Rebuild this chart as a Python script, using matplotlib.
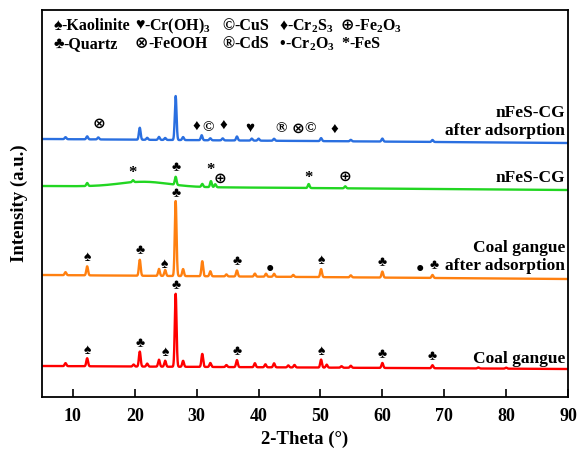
import numpy as np
import matplotlib
matplotlib.use('Agg')
import matplotlib.pyplot as plt

plt.rcParams['font.family'] = ['Liberation Serif', 'DejaVu Sans']
plt.rcParams['font.weight'] = 'bold'
plt.rcParams['mathtext.fontset'] = 'custom'
plt.rcParams['mathtext.rm'] = 'Liberation Serif:bold'
plt.rcParams['mathtext.it'] = 'Liberation Serif:bold'
plt.rcParams['mathtext.bf'] = 'Liberation Serif:bold'

# ── Data: peak positions (2θ, °) and heights (a.u.) ──
cg_pos = [8.8, 12.3, 19.8, 20.8, 22.0, 23.9, 24.9, 26.6, 27.8, 30.9, 32.2, 34.8,
          36.5, 39.4, 41.1, 42.5, 44.8, 45.8, 50.1, 51.0, 53.4, 54.9, 60.0, 68.1,
          75.5, 80.0]
cg_h = [3, 8, 2, 15, 3, 7, 6, 73, 6, 13, 4, 2,
        7, 4, 3, 4, 2, 2.5, 8, 3, 1.5, 2, 5, 3,
        1, 1]

cga_pos = [8.8, 12.3, 20.8, 23.9, 24.9, 26.6, 27.8, 30.9, 32.2, 34.8, 36.5,
           39.4, 41.2, 42.5, 45.6, 50.1, 54.9, 60.0, 68.1]
cga_h = [3, 9, 16, 7, 6, 75, 7, 15, 5, 2, 6,
         3, 3, 3, 2, 8, 2, 6, 3]

nfes_pos = [12.3, 19.7, 26.6, 30.9, 32.3, 33.0, 48.1, 54.0]
nfes_h = [3, 2, 8, 3, 6, 3, 4, 2]
nfes_hump = (21.5, 5)          # broad amorphous hump: centre, height

nfesa_pos = [8.8, 12.3, 14.1, 20.8, 22.0, 23.9, 24.9, 26.6, 27.8, 30.8, 32.2,
             34.2, 36.5, 38.9, 40.0, 42.5, 50.1, 54.9, 60.0, 68.1]
nfesa_h = [2, 3, 2, 12, 2, 3, 2, 44, 3, 5, 2,
           2, 4, 2, 2, 2, 3, 1.5, 3, 2]

# baseline level at 2θ = 5 and 2θ = 90
base_cg = (31, 28)
base_cga = (122, 118)
base_nfes = (211, 207)
base_nfesa = (258, 254)

# phase marks: (symbol, 2θ, lift above curve)
marks_cg = [('♠', 12.3, 8), ('♣', 20.8, 8), ('♠', 24.9, 8), ('♣', 26.6, 8),
            ('♣', 36.5, 8), ('♠', 50.1, 8), ('♣', 60.0, 8), ('♣', 68.1, 9)]
marks_cga = [('♠', 12.3, 9), ('♣', 20.8, 9), ('♠', 24.7, 9), ('♣', 26.6, 8),
             ('♣', 36.5, 9), ('●', 41.8, 8), ('♠', 50.1, 9), ('♣', 60.0, 9),
             ('●', 66.1, 9), ('♣', 68.3, 11)]
marks_nfes = [('*', 19.7, 7), ('♣', 26.6, 9), ('*', 32.2, 12), ('⊕', 33.8, 8),
              ('*', 48.1, 6), ('⊕', 54.0, 9)]
marks_nfesa = [('⊗', 14.2, 14), ('♦', 29.9, 13), ('©', 31.8, 13), ('♦', 34.3, 13),
               ('♥', 38.6, 12), ('®', 43.7, 12), ('⊗', 46.3, 12), ('©', 48.3, 12),
               ('♦', 52.2, 11)]

# phase key: (symbol, name) per column, two rows
legend_row1 = [('♠', 'Kaolinite'), ('♥', 'Cr(OH)$_3$'), ('©', 'CuS'),
               ('♦', 'Cr$_2$S$_3$'), ('⊕', 'Fe$_2$O$_3$')]
legend_row2 = [('♣', 'Quartz'), ('⊗', 'FeOOH'), ('®', 'CdS'),
               ('•', 'Cr$_2$O$_3$'), ('*', 'FeS')]
legend_x = [6.8, 20.0, 34.2, 43.3, 53.3]

sym_size = {'♠': 10, '♣': 10, '♦': 11, '♥': 11, '©': 11, '®': 11,
            '⊗': 11, '⊕': 11, '●': 10, '*': 12}

x = np.linspace(5, 90, 4000)


def pattern(pos, h, base, hump=None):
    y = np.linspace(base[0], base[1], x.size)
    for p, a in zip(pos, h):
        y = y + a * np.exp(-0.5 * ((x - p) / 0.14) ** 2)
    if hump is not None:
        y = y + hump[1] * np.exp(-0.5 * ((x - hump[0]) / 4.0) ** 2)
    return y


series = [
    (pattern(nfesa_pos, nfesa_h, base_nfesa), '#2a6fe0', marks_nfesa),
    (pattern(nfes_pos, nfes_h, base_nfes, nfes_hump), '#22d622', marks_nfes),
    (pattern(cga_pos, cga_h, base_cga), '#ff8010', marks_cga),
    (pattern(cg_pos, cg_h, base_cg), '#ff0000', marks_cg),
]

fig = plt.figure(figsize=(5.79, 4.54), dpi=100)
ax = fig.add_axes([42 / 579, 1 - 397 / 454, 526 / 579, 387 / 454])

for y, col, marks in series:
    ax.plot(x, y, color=col, lw=1.7)
    for sym, p, lift in marks:
        yy = np.interp(p, x, y) + lift
        ax.text(p, yy, sym, ha='center', va='center',
                fontsize=sym_size[sym], color='black')

# sample labels
lab_kw = dict(ha='right', va='center', fontsize=12.5, fontweight='bold')
ax.text(89.5, 284, 'nFeS-CG', **lab_kw)
ax.text(89.5, 266, 'after adsorption', **lab_kw)
ax.text(89.5, 219, 'nFeS-CG', **lab_kw)
ax.text(89.5, 149, 'Coal gangue', **lab_kw)
ax.text(89.5, 131, 'after adsorption', **lab_kw)
ax.text(89.5, 38, 'Coal gangue', **lab_kw)

# phase key: symbol drawn on its own, name follows right after it
fig.canvas.draw()
rend = fig.canvas.get_renderer()
for lx, e1, e2 in zip(legend_x, legend_row1, legend_row2):
    for (sym, name), ly in ((e1, 371), (e2, 353)):
        t = ax.text(lx, ly, sym, ha='left', va='center', fontsize=11.5,
                    fontweight='bold')
        w = t.get_window_extent(rend).width * 72 / fig.dpi
        ax.annotate('-' + name, xy=(lx, ly), xytext=(w, 0),
                    textcoords='offset points', ha='left', va='center',
                    fontsize=11.5, fontweight='bold')

ax.set_xlim(5, 90)
ax.set_ylim(0, 387)
ax.set_xticks(range(10, 91, 10))
ax.set_yticks([])
ax.tick_params(axis='x', direction='in', length=6, width=1.2, labelsize=13, pad=8)
for lb in ax.get_xticklabels():
    lb.set_fontweight('bold')
for s in ax.spines.values():
    s.set_linewidth(1.3)
ax.set_xlabel('2-Theta (°)', fontsize=13.5, fontweight='bold', labelpad=4)
ax.set_ylabel('Intensity (a.u.)', fontsize=13.5, fontweight='bold', labelpad=10)

fig.savefig('out.png', dpi=100)
